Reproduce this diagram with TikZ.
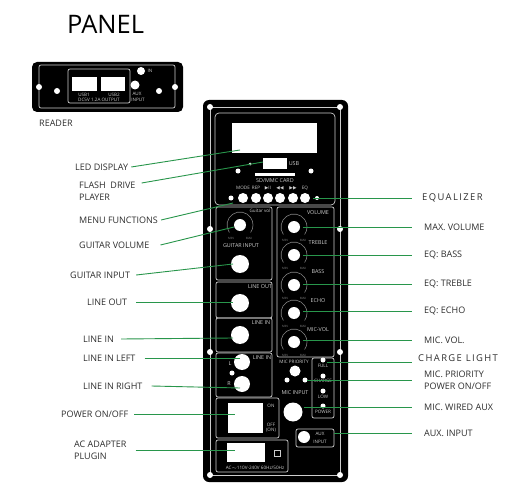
\documentclass[tikz,border=0pt]{standalone}
\usepackage{fontspec}
\setmainfont{Open Sans}
\newfontfamily\symf{DejaVu Sans}
\definecolor{conn}{RGB}{40,150,75}
\definecolor{ink}{RGB}{45,45,45}
\definecolor{panelgrey}{RGB}{205,205,205}
\definecolor{dialgrey}{RGB}{130,130,130}
\tikzset{
  lbl/.style={anchor=west,inner sep=0pt,text=ink,font=\fontsize{9}{10}\selectfont},
  widelbl/.style={anchor=west,inner sep=0pt,text=ink,font=\fontsize{9.4}{10}\selectfont\addfontfeature{LetterSpace=15}},
  wire/.style={draw=conn,line width=0.9pt},
  rail/.style={draw=panelgrey,line width=0.7pt,rounded corners=2pt},
  screw/.style={circle,fill=white,draw=none,inner sep=0pt,minimum size=6pt},
  dotw/.style={circle,fill=white,draw=none,inner sep=0pt,minimum size=5pt},
  knobs/.style={circle,fill=white,draw=none,inner sep=0pt,minimum size=12pt},
  knobl/.style={circle,fill=white,draw=none,inner sep=0pt,minimum size=18pt},
  whitebox/.style={fill=white,draw=none},
  tiny/.style={text=panelgrey,inner sep=0pt,font=\fontsize{4.6}{5}\selectfont},
  micro/.style={text=dialgrey,inner sep=0pt,font=\fontsize{3}{3}\selectfont},
  small/.style={text=panelgrey,inner sep=0pt,font=\fontsize{5.4}{6}\selectfont},
  dial/.style={draw=dialgrey,line width=0.6pt},
}
\newcommand{\dialat}[2]{%
  \draw[dial] (#1,#2) ++(215:13pt) arc[start angle=215,end angle=-35,radius=13pt];
  \node[micro] at (#1-9,#2+13) {MIN};
  \node[micro] at (#1+9,#2+13) {MAX};}
\begin{document}
\begin{tikzpicture}[x=1pt,y=-1pt]
\useasboundingbox (0,0) rectangle (520,495);
\fill[white] (0,0) rectangle (520,495);

% title
\node[anchor=west,inner sep=0pt,text=black,font=\fontsize{25.5}{28}\selectfont] (title) at (67,24) {PANEL};

% reader plate
\fill[black,rounded corners=5pt] (32,62) rectangle (183,112);
\draw[rail] (39,65) rectangle (175,108);
\draw[rail] (68,69) rectangle (130,103);
\fill[white] (72,77) rectangle (97,91);
\fill[white] (101,77) rectangle (125,91);
\node[tiny] (u1) at (84,95) {USB1};
\node[tiny] (u2) at (114,95) {USB2};
\node[tiny] (u3) at (99,100) {DC5V 1.2A OUTPUT};
\node[screw,minimum size=8pt] (rin) at (141,71) {};
\node[tiny] (rint) at (150,71) {IN};
\node[screw,minimum size=9pt] (raux) at (135,85) {};
\node[tiny] (ra1) at (137,94) {AUX};
\node[tiny] (ra2) at (138,100) {INPUT};
\node[screw] (rs1) at (39,87) {};
\node[screw] (rs2) at (175,87) {};
\node[screw] (rs3) at (57,91) {};
\node[screw] (rs4) at (159,91) {};
\node[lbl] (reader) at (39,123) {READER};

% main panel
\fill[black,rounded corners=6pt] (203,100) rectangle (348,482);
\draw[draw=panelgrey,line width=0.8pt] (210,107) rectangle (340,475);
\draw[rail,rounded corners=4pt] (215,113) -- (335,113) -- (335,205) -- (215,205) -- cycle;
\foreach \n/\x/\y in {a/210/107,b/340/107,c/210/229,d/340/229,e/210/352,f/340/352,g/210/475,h/340/475}
  \node[screw] (s\n) at (\x,\y) {};
\fill[white] (232,123) rectangle (317,153);
\node[whitebox,minimum width=24pt,minimum height=11pt,inner sep=0pt] (usb) at (275,163.5) {};
\node[small] (usbt) at (294,164) {USB};
\fill[white] (255,173) rectangle (295,176);
\node[small] (sdt) at (275,181) {SD/MMC CARD};
\node[dotw] (d1) at (238,171) {};
\node[dotw] (d2) at (311,171) {};
\node[dotw,minimum size=3pt] (d3) at (250,164) {};
\foreach \n/\x/\t in {1/243/MODE,2/256/REP,3/268/{\symf ▶}II,4/280/{\symf ◀◀},5/293/{\symf ▶▶},6/305/EQ}{
  \node[knobs,minimum size=10pt] (m\n) at (\x,198) {};
  \node[tiny] (mt\n) at (\x,188) {\t};
}
\node[dotw] (ml) at (231,198) {};
\node[dotw,minimum size=4pt] (mr) at (317,198) {};

% boxes
\draw[rail] (216,207) rectangle (272,280);
\draw[rail] (277,207) rectangle (334,357);
\draw[rail] (216,282) rectangle (272,318);
\draw[rail] (216,318) rectangle (272,352);
\draw[rail] (216,353) rectangle (272,397);
\draw[rail] (216,398) rectangle (279,438);
\draw[rail] (216,440) rectangle (288,472);
\draw[rail] (312,358) rectangle (334,418);
\draw[rail] (296,429) rectangle (334,447);

% left knobs
\dialat{240}{225}
\node[knobs] (kgv) at (240,225) {};
\node[tiny] (kgvt) at (260,211) {Guitar vol};
\node[small] (kgit) at (241,246) {GUITAR INPUT};
\node[knobl] (kgi) at (240,264) {};
\node[small] (klot) at (260,287) {LINE OUT};
\node[knobl] (klo) at (240,303) {};
\node[small] (klit) at (261,323) {LINE IN};
\node[knobl] (kli) at (240,335) {};
\node[small] (klrt) at (262,358) {LINE IN};
\node[knobl,minimum size=16pt] (kl) at (242,362) {};
\node[knobl,minimum size=16pt] (kr) at (242,384) {};
\node[small] (klt) at (230,364) {L};
\node[small] (krt) at (229,384) {R};
\node[dotw] (klr) at (232,373) {};

% right knobs
\foreach \n/\y/\ty/\t in {vol/227/213/VOLUME,tre/255/243/TREBLE,bas/285/272/BASS,ech/313/301/ECHO,mic/342/330/MIC-VOL}{
  \dialat{294}{\y}
  \node[knobs] (k\n) at (294,\y) {};
  \node[small] (k\n t) at (318,\ty) {\t};
}

% lower right
\node[tiny] (mpt) at (294,362) {MIC PRIORITY};
\node[knobs,minimum size=11pt] (mp) at (295,371) {};
\node[dotw] (mp1) at (287,380) {};
\node[dotw] (mp2) at (305,380) {};
\node[small] (mit) at (295,393) {MIC INPUT};
\node[knobl,minimum size=19pt] (kmi) at (293,412) {};
\foreach \n/\y/\ty/\t in {full/360/366/FULL,chg/376/381/CHARGE,low/391/397/LOW,pow/406/412/POWER}{
  \node[dotw] (l\n) at (323,\y) {};
  \node[tiny] (l\n t) at (323,\ty) {\t};
}
\node[knobs] (kaux) at (304,437) {};
\node[tiny] (kauxa) at (320,434) {AUX};
\node[tiny] (kauxb) at (320,442) {INPUT};

% switches
\fill[white] (228,403) rectangle (263,433);
\node[tiny] (on) at (271,406) {ON};
\node[tiny] (off) at (271,425) {OFF};
\node[tiny] (onb) at (271,430) {(ON)};
\fill[white] (227,443) rectangle (265,462);
\draw[panelgrey,line width=0.8pt] (274,450) rectangle (280,456);
\node[tiny] (act) at (255,468) {AC$\sim$110V-240V 60Hz/50Hz};

% wire targets
\coordinate (tled) at (240,150);
\coordinate (tflash) at (263,162);
\coordinate (tmenu) at (233,203);
\coordinate (tgv) at (234,227);
\coordinate (tgi) at (233,264);
\coordinate (tlo) at (233,302);
\coordinate (tli) at (233,338);
\coordinate (tll) at (240,358);
\coordinate (tlr) at (240,388);
\coordinate (tpow) at (235,414);
\coordinate (tac) at (235,450);
\coordinate (teq) at (313,198);
\coordinate (tvol) at (303,227);
\coordinate (ttre) at (303,255.5);
\coordinate (tbas) at (303,284.5);
\coordinate (tech) at (303,311);
\coordinate (tmic) at (303,340);
\coordinate (tchg) at (327,362);
\coordinate (tpri) at (307,380);
\coordinate (twir) at (304,407);
\coordinate (taux) at (334,433);

% left labels
\node[lbl] (lled) at (75,167) {LED DISPLAY};
\node[lbl] (lfl) at (79,185) {FLASH\ \ DRIVE};
\node[lbl] (lfl2) at (79,197) {PLAYER};
\node[lbl] (lmenu) at (79,220) {MENU FUNCTIONS};
\node[lbl] (lgv) at (79,245) {GUITAR VOLUME};
\node[lbl] (lgi) at (70,275) {GUITAR INPUT};
\node[lbl] (llo) at (87,302) {LINE\ OUT};
\node[lbl] (lli) at (83,339) {LINE IN};
\node[lbl] (lll) at (83,358) {LINE IN LEFT};
\node[lbl] (llr) at (83,386) {LINE IN RIGHT};
\node[lbl] (lpow) at (61,414) {POWER ON/OFF};
\node[lbl] (lac) at (74,444) {AC ADAPTER};
\node[lbl] (lac2) at (74,456) {PLUGIN};

% right labels
\node[widelbl] (req) at (422,198) {EQUALIZER};
\node[lbl] (rvol) at (424,227) {MAX. VOLUME};
\node[lbl] (rbas) at (424,255.5) {EQ: BASS};
\node[lbl] (rtre) at (424,284.5) {EQ: TREBLE};
\node[lbl] (rech) at (424,311) {EQ: ECHO};
\node[lbl] (rmic) at (424,340) {MIC. VOL.};
\node[widelbl] (rchg) at (418,358) {CHARGE LIGHT};
\node[lbl] (rpri) at (424,374) {MIC. PRIORITY};
\node[lbl] (rpri2) at (424,386) {POWER ON/OFF};
\node[lbl] (rwir) at (424,407) {MIC. WIRED AUX};
\node[lbl] (raux2) at (424,433) {AUX. INPUT};

% connectors
\draw[wire] ([xshift=3pt]lled.east) -- (tled);
\draw[wire] ([xshift=6pt,yshift=2pt]lfl.east) -- (tflash);
\draw[wire] ([xshift=3pt]lmenu.east) -- (tmenu);
\draw[wire] ([xshift=11pt]lgv.east) -- (tgv);
\draw[wire] ([xshift=6pt]lgi.east) -- (tgi);
\draw[wire] ([xshift=9pt]llo.east) -- (tlo);
\draw[wire] ([xshift=7pt]lli.east) -- (tli);
\draw[wire] ([xshift=9pt]lll.east) -- (tll);
\draw[wire] ([xshift=9pt]llr.east) -- (tlr);
\draw[wire] ([xshift=6pt]lpow.east) -- (tpow);
\draw[wire] ([xshift=9pt,yshift=-6pt]lac.east) -- (tac);
\draw[wire] (teq) -- ([xshift=-10pt]req.west);
\draw[wire] (tvol) -- ([xshift=-12pt]rvol.west);
\draw[wire] (ttre) -- ([xshift=-12pt]rbas.west);
\draw[wire] (tbas) -- ([xshift=-12pt]rtre.west);
\draw[wire] (tech) -- ([xshift=-12pt]rech.west);
\draw[wire] (tmic) -- ([xshift=-12pt]rmic.west);
\draw[wire] (tchg) -- ([xshift=-6pt,yshift=-4pt]rchg.west);
\draw[wire] (tpri) -- ([xshift=-12pt,yshift=-6pt]rpri.west);
\draw[wire] (twir) -- ([xshift=-12pt]rwir.west);
\draw[wire] (taux) -- ([xshift=-12pt]raux2.west);
\end{tikzpicture}
\end{document}
